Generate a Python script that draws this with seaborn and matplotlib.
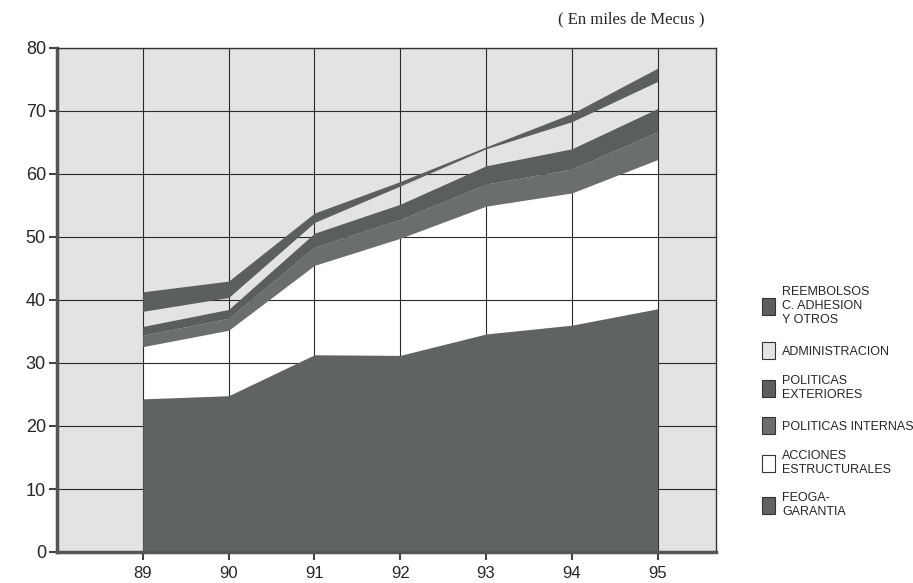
import matplotlib
matplotlib.use("Agg")
import matplotlib.pyplot as plt
import pandas as pd
import seaborn as sns
from matplotlib.patches import Patch

# Presupuesto por rubro, en miles de Mecus
years = [89, 90, 91, 92, 93, 94, 95]
feoga_garantia = [24.3, 24.8, 31.3, 31.2, 34.6, 36.0, 38.6]
acciones_estructurales = [8.3, 10.4, 14.2, 18.6, 20.3, 21.0, 23.7]
politicas_internas = [1.8, 1.9, 2.9, 3.0, 3.5, 3.8, 4.4]
politicas_exteriores = [1.4, 1.4, 2.2, 2.4, 2.9, 3.2, 3.7]
administracion = [2.4, 1.9, 1.7, 2.9, 2.7, 4.3, 4.3]
reembolsos = [3.1, 2.6, 1.5, 0.7, 0.3, 1.3, 2.1]

series_names = ["FEOGA-\nGARANTIA", "ACCIONES\nESTRUCTURALES", "POLITICAS INTERNAS",
                "POLITICAS\nEXTERIORES", "ADMINISTRACION", "REEMBOLSOS\nC. ADHESION\nY OTROS"]
colors = ["#5f6462", "#ffffff", "#6a6e6c", "#5a5e5c", "#e3e3e3", "#5b5f5d"]

df = pd.DataFrame({
    series_names[0]: feoga_garantia,
    series_names[1]: acciones_estructurales,
    series_names[2]: politicas_internas,
    series_names[3]: politicas_exteriores,
    series_names[4]: administracion,
    series_names[5]: reembolsos,
}, index=years)

sns.set_theme(style="white")
plt.rcParams["font.family"] = ["Liberation Sans", "DejaVu Sans"]

fig = plt.figure(figsize=(9.13, 5.83), dpi=100)
ax = fig.add_axes([57 / 913, 1 - 552 / 583, 659 / 913, 504 / 583])
ax.set_facecolor("#e3e3e3")

polys = ax.stackplot(df.index, df.T.values, colors=colors, linewidth=0)
# white and light layers sit under the grid, dark layers hide it
for p, c in zip(polys, colors):
    p.set_zorder(1 if c in ("#ffffff", "#e3e3e3") else 3)

ax.set_xlim(88, 95.68)
ax.set_ylim(0, 80)
ax.set_xticks(years)
ax.set_yticks(range(0, 81, 10))
ax.set_axisbelow(False)
ax.grid(True, color="#2a2a2a", linewidth=0.8)
ax.tick_params(axis="both", direction="out", length=6, width=1.5, color="#444",
               left=True, bottom=True, labelsize=13, pad=2)
ax.tick_params(axis="x", labelsize=12, pad=4)

for side in ["left", "bottom"]:
    ax.spines[side].set_linewidth(2.5)
    ax.spines[side].set_color("#555")
for side in ["top", "right"]:
    ax.spines[side].set_linewidth(1)
    ax.spines[side].set_color("#333")
for s in ax.spines.values():
    s.set_zorder(4)

fig.text(0.772, 0.966, "( En miles de Mecus )", ha="right", va="center",
         family="Liberation Serif", fontsize=12)

handles = [Patch(facecolor=c, edgecolor="#333", linewidth=0.8, label=n)
           for c, n in zip(colors, series_names)]
fig.legend(handles=handles[::-1], loc="center left", bbox_to_anchor=(0.822, 0.31),
           frameon=False, fontsize=9, handlelength=1.1, handleheight=1.7,
           handletextpad=0.55, labelspacing=1.3)

fig.savefig("out.png", dpi=100)
